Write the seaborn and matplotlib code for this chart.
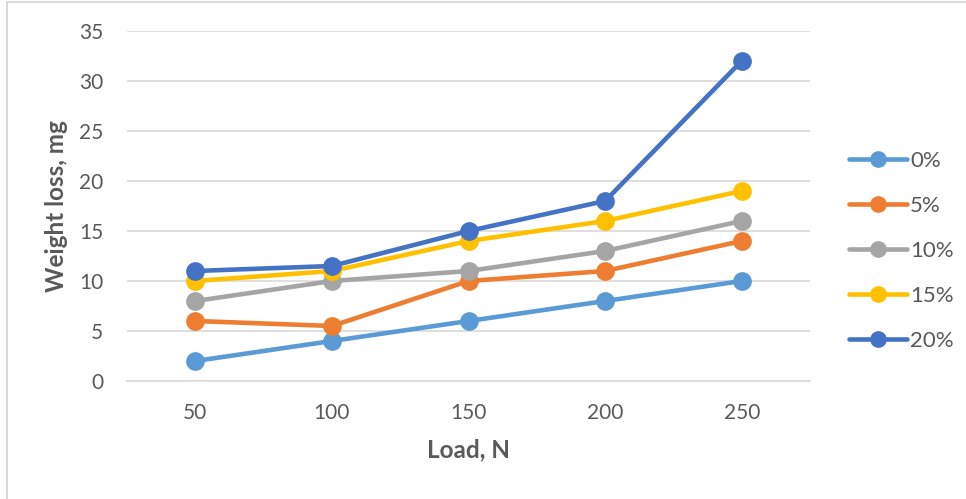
import matplotlib
matplotlib.use("Agg")
import matplotlib.pyplot as plt
from matplotlib.lines import Line2D
import seaborn as sns
import pandas as pd

# Wear test results: weight loss vs. applied load for each filler content
loads = [50, 100, 150, 200, 250]
contents = ["0%", "5%", "10%", "15%", "20%"]
loss_0 = [2, 4, 6, 8, 10]
loss_5 = [6, 5.5, 10, 11, 14]
loss_10 = [8, 10, 11, 13, 16]
loss_15 = [10, 11, 14, 16, 19]
loss_20 = [11, 11.5, 15, 18, 32]
colors = ["#5B9BD5", "#ED7D31", "#A5A5A5", "#FFC000", "#4472C4"]
y_ticks = [0, 5, 10, 15, 20, 25, 30, 35]

series = [loss_0, loss_5, loss_10, loss_15, loss_20]
rows = []
for name, vals in zip(contents, series):
    for load, v in zip(loads, vals):
        rows.append({"Load": load, "Loss": v, "Content": name})
df = pd.DataFrame(rows)

sns.set_theme(style="white")
plt.rcParams["font.family"] = ["Lato", "DejaVu Sans"]

text_color = "#595959"
grid_color = "#D9D9D9"

fig = plt.figure(figsize=(9.66, 4.99), dpi=100)
ax = fig.add_axes([127 / 966, 1 - 381 / 499, (810 - 127) / 966, (381 - 31) / 499])

sns.pointplot(
    data=df, x="Load", y="Loss", hue="Content",
    order=loads, hue_order=contents, palette=colors,
    markers="o", linestyles="-", errorbar=None, dodge=False,
    linewidth=3.3, markersize=11, ax=ax,
)
if ax.get_legend() is not None:
    ax.get_legend().remove()

ax.set_xlim(-0.5, 4.5)
ax.set_ylim(0, 35)
ax.set_yticks(y_ticks)
ax.set_yticklabels([str(t) for t in y_ticks])
ax.yaxis.grid(True, color=grid_color, linewidth=1.2)
ax.xaxis.grid(False)
ax.set_axisbelow(True)
for side in ["top", "right", "left"]:
    ax.spines[side].set_visible(False)
ax.spines["bottom"].set_color(grid_color)
ax.spines["bottom"].set_linewidth(1.2)
ax.tick_params(axis="both", length=0, labelsize=15, labelcolor=text_color)
ax.tick_params(axis="y", pad=17)
ax.tick_params(axis="x", pad=16)

ax.set_xlabel("Load, N", fontsize=17.5, fontweight="bold", color=text_color, labelpad=11)
ax.set_ylabel("Weight loss, mg", fontsize=17.5, fontweight="bold", color=text_color, labelpad=8)

handles = [
    Line2D([0], [0], color=c, lw=3.3, marker="o", markersize=11, solid_capstyle="round")
    for c in colors
]
leg = fig.legend(
    handles, contents, loc="center left", bbox_to_anchor=(849 / 966, 1 - 251 / 499),
    frameon=False, fontsize=16, handlelength=2.6, handletextpad=0.15,
    labelspacing=1.12, borderaxespad=0, borderpad=0,
)
for t in leg.get_texts():
    t.set_color(text_color)

# Thin frame along the top and left edges
fig.add_artist(Line2D([7 / 966, 1], [1 - 2 / 499, 1 - 2 / 499], color=grid_color,
                      lw=1.5, transform=fig.transFigure))
fig.add_artist(Line2D([7 / 966, 7 / 966], [0, 1 - 2 / 499], color=grid_color,
                      lw=1.5, transform=fig.transFigure))

fig.savefig("out.png", dpi=100, facecolor="white")
